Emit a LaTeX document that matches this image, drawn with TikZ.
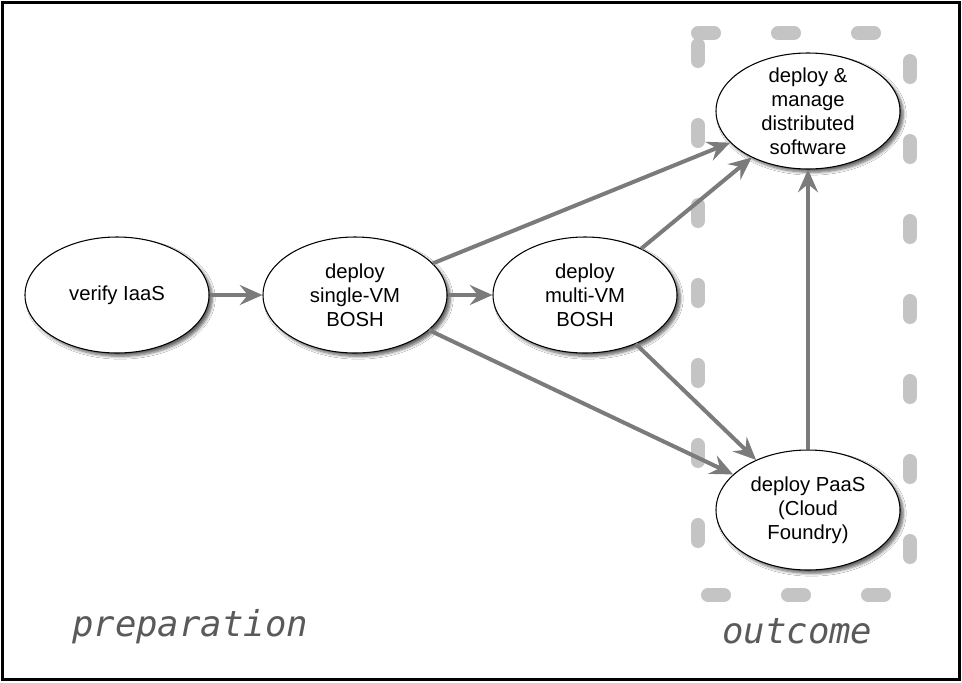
\documentclass[tikz,border=0pt]{standalone}
\usepackage{fontspec}
\setmainfont{Liberation Sans}
\newfontfamily\labfont{DejaVu Sans Mono}
\usetikzlibrary{shapes.geometric,arrows.meta,shadows.blur}
\definecolor{arrowgray}{HTML}{7B7B7B}
\definecolor{dashgray}{HTML}{C4C4C4}
\definecolor{labgray}{HTML}{5A5A5A}
\begin{document}
\begin{tikzpicture}[x=0.75pt,y=-0.75pt,
  state/.style={ellipse, draw=black, line width=0.8pt, fill=white,
    minimum width=138pt, minimum height=87pt, inner xsep=0pt, inner ysep=-6pt,
    align=center, font=\fontsize{15.2}{18}\selectfont,
    blur shadow={shadow xshift=2.5pt, shadow yshift=-2.5pt, shadow blur steps=6, shadow opacity=60}},
  arr/.style={draw=arrowgray, line width=3pt, -{Stealth[length=17pt,width=15pt,inset=6pt]}},
  zone/.style={draw=dashgray, line width=10.5pt, line cap=round, line join=round, dash pattern=on 12pt off 48pt},
  lab/.style={text=labgray, font=\labfont\itshape\fontsize{26.7}{30}\selectfont, inner sep=0pt, anchor=base west}]
\useasboundingbox (0,0) rectangle (962,682);
\fill[white] (0,0) rectangle (962,682);
\draw[line width=2.25pt] (2.5,2.5) rectangle (959.5,679.5);
% outcome zone
\coordinate (z1) at (698,33);
\coordinate (z2) at (910,33);
\coordinate (z3) at (910,595);
\coordinate (z4) at (698,595);
\draw[zone] (z1) -- (z2) -- (z3) -- (z4) -- cycle;
% nodes
\node[state] (verify) at (117,295) {verify IaaS};
\node[state] (single) at (355,295) {deploy\\single-VM\\BOSH};
\node[state] (multi) at (585,295) {deploy\\multi-VM\\BOSH};
\node[state] (manage) at (808,111) {deploy \&\\manage\\distributed\\software};
\node[state, minimum height=90pt] (paas) at (808,510) {deploy PaaS\\(Cloud\\Foundry)};
% connectors
\draw[arr] (verify) -- (single);
\draw[arr] (single) -- (multi);
\draw[arr] (single) -- (manage);
\draw[arr] (multi) -- (manage);
\draw[arr] (single) -- (paas);
\draw[arr] (multi) -- (paas);
\draw[arr] (paas) -- (manage);
% labels
\node[lab] (prep) at (72,636) {preparation};
\node[lab] (outc) at (722,643) {outcome};
\end{tikzpicture}
\end{document}
